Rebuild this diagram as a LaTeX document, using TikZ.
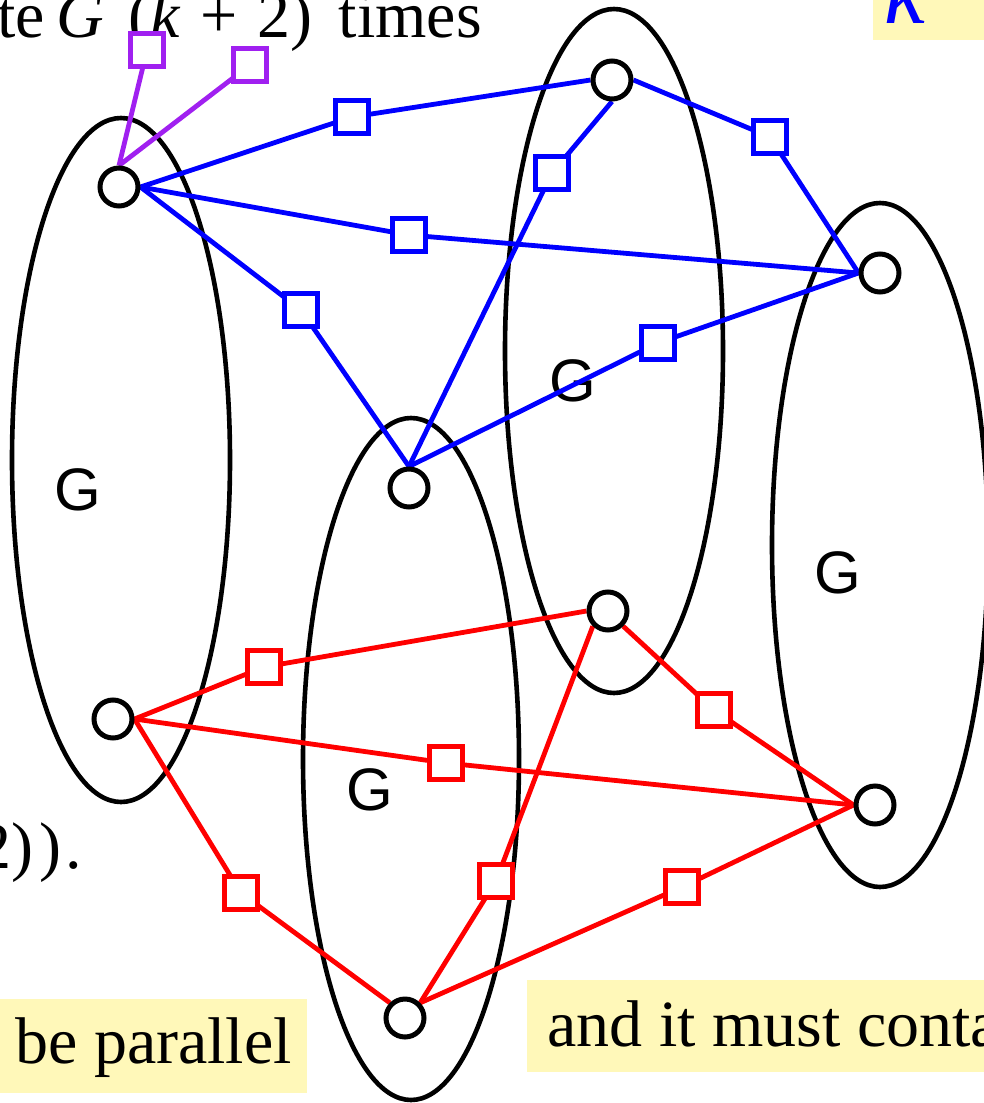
\documentclass[tikz,border=0pt]{standalone}
\usepackage{fontspec}
\setmainfont{Liberation Serif}
\newfontfamily\gfont{Liberation Sans}
\definecolor{hl}{RGB}{255,248,185}
\definecolor{pur}{RGB}{160,32,240}
\pgfdeclarelayer{back}
\pgfdeclarelayer{mid}
\pgfsetlayers{back,mid,main}
\begin{document}
\begin{tikzpicture}[x=1pt,y=-1pt,
  vert/.style={circle,draw=black,line width=5pt,fill=white,minimum size=38pt,inner sep=0pt},
  sq/.style={rectangle,line width=5pt,fill=white,minimum size=33pt,inner sep=0pt},
  bsq/.style={sq,draw=blue},
  rsq/.style={sq,draw=red},
  psq/.style={sq,draw=pur},
  bl/.style={draw=blue,line width=4.8pt},
  rl/.style={draw=red,line width=4.8pt},
  pl/.style={draw=pur,line width=4.8pt},
  ell/.style={draw=black,line width=4.6pt},
  glab/.style={font=\gfont\fontsize{60}{70}\selectfont,inner sep=0pt},
  txt/.style={font=\fontsize{66}{78}\selectfont,inner sep=0pt,anchor=base west},
  hlbox/.style={fill=hl,draw=none}]
\useasboundingbox (0,0) rectangle (984,1103);
\clip (0,0) rectangle (984,1103);

% background: highlight boxes, texts, ellipses
\begin{pgfonlayer}{back}
  \fill[hlbox] (873,-5) rectangle (990,40);
  \fill[hlbox] (0,999) rectangle (307,1093);
  \fill[hlbox] (527,980) rectangle (990,1072);
  \node[txt] (ttop) at (-3,37) {te\hspace{12pt}\textit{G}\hspace{24pt}(\textit{k}\hspace{20pt}+\hspace{20pt}2)\hspace{26pt}times};
  \node[txt] (tleft) at (-22,868) {2)\hspace{6pt})\hspace{4pt}.};
  \node[txt,text=blue,font=\fontsize{92}{100}\selectfont] (tk) at (884,23) {\textit{k}};
  \node[txt] (tpar) at (15,1063) {be parallel};
  \node[txt] (tand) at (547,1046) {and it must conta};
  \draw[ell] (121,460) ellipse [x radius=109, y radius=342];
  \draw[ell] (411,759) ellipse [x radius=108, y radius=341];
  \draw[ell] (614,351) ellipse [x radius=109, y radius=342];
  \draw[ell] (880,545) ellipse [x radius=108, y radius=342];
  \node[glab] (g1) at (78,490) {G};
  \node[glab] (g2) at (370,790) {G};
  \node[glab] (g3) at (573,381) {G};
  \node[glab] (g4) at (838,573) {G};
\end{pgfonlayer}

% vertices
\node[vert] (A) at (119,187) {};
\node[vert] (B) at (113,719) {};
\node[vert] (C) at (409,488) {};
\node[vert] (D) at (612,80) {};
\node[vert] (E) at (880,273) {};
\node[vert] (F) at (608,611) {};
\node[vert] (H) at (875,805) {};
\node[vert] (I) at (405,1018) {};

% subdivision squares
\node[psq] (p1) at (147,50) {};
\node[psq] (p2) at (250,65) {};
\node[bsq] (b1) at (352,117) {};
\node[bsq] (b2) at (409,235) {};
\node[bsq] (b3) at (301,310) {};
\node[bsq] (b4) at (552,173) {};
\node[bsq] (b5) at (770,137) {};
\node[bsq] (b6) at (658,343) {};
\node[rsq] (r1) at (264,667) {};
\node[rsq] (r2) at (446,763) {};
\node[rsq] (r3) at (241,893) {};
\node[rsq] (r4) at (496,881) {};
\node[rsq] (r5) at (714,710) {};
\node[rsq] (r6) at (682,887) {};

% connectors
\begin{pgfonlayer}{mid}
  \draw[pl] (A.north) -- (p1.center);
  \draw[pl] (A.north) -- (p2.center);
  \draw[bl] (A.east) -- (b1.center) -- (D.west);
  \draw[bl] (A.east) -- (b2.center) -- (E.west);
  \draw[bl] (A.east) -- (b3.center) -- (C.north);
  \draw[bl] (D.south) -- (b4.center) -- (C.north);
  \draw[bl] (D.east) -- (b5.center) -- (E.west);
  \draw[bl] (C.north) -- (b6.center) -- (E.west);
  \draw[rl] (B.east) -- (r1.center) -- (F.west);
  \draw[rl] (B.east) -- (r2.center) -- (H.west);
  \draw[rl] (B.east) -- (r3.center) -- (I.north west);
  \draw[rl] (F.south west) -- (r4.center) -- (I.north east);
  \draw[rl] (F.south east) -- (r5.center) -- (H.west);
  \draw[rl] (I.north east) -- (r6.center) -- (H.west);
\end{pgfonlayer}
\end{tikzpicture}
\end{document}
